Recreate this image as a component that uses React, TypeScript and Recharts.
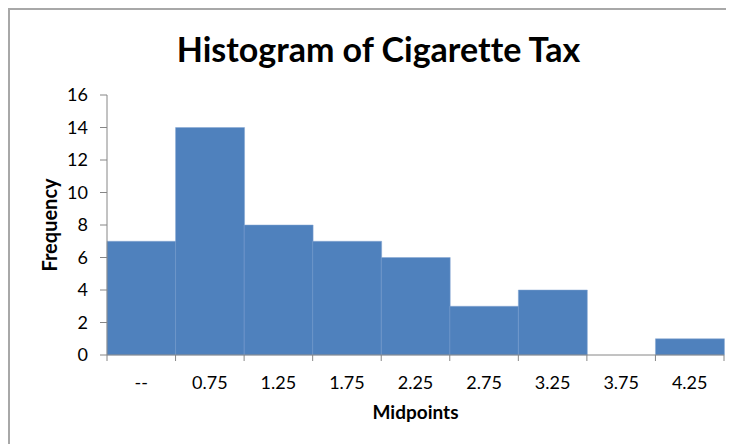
import { BarChart, Bar, XAxis, YAxis, Label } from "recharts";

// histogram bins (midpoints) and counts
const midpoints = ["--", "0.75", "1.25", "1.75", "2.25", "2.75", "3.25", "3.75", "4.25"];
const frequency = [7, 14, 8, 7, 6, 3, 4, 0, 1];
const yTicks = [0, 2, 4, 6, 8, 10, 12, 14, 16];

const data = midpoints.map((m, i) => ({ midpoint: m, frequency: frequency[i] }));

const CHART_W = 724;
const CHART_H = 434;
const MARGIN = { top: 85, right: 10, bottom: 0, left: 57 };
const Y_AXIS_W = 40;
const PLOT_W = CHART_W - MARGIN.left - MARGIN.right - Y_AXIS_W;
const AXIS_GREY = "#868686";
const FONT = "Lato, 'Noto Sans', sans-serif";

// tick marks sit on the bin edges, labels in the middle of each bin
const EdgeTick = (props: any) => {
  const { x, y, payload, index } = props;
  const half = PLOT_W / midpoints.length / 2;
  return (
    <g>
      <line x1={x - half} y1={y} x2={x - half} y2={y + 6} stroke={AXIS_GREY} />
      {index === midpoints.length - 1 && (
        <line x1={x + half} y1={y} x2={x + half} y2={y + 6} stroke={AXIS_GREY} />
      )}
      <text
        x={x}
        y={y + 27}
        textAnchor="middle"
        dominantBaseline="central"
        fontFamily={FONT}
        fontSize={18}
        fill="#000"
      >
        {payload.value}
      </text>
    </g>
  );
};

const App = () => {
  return (
    <div
      style={{
        position: "relative",
        width: CHART_W,
        height: CHART_H,
        borderTop: "2px solid #a8a8a8",
        borderLeft: "2px solid #a8a8a8",
        background: "#fff",
      }}
    >
      <div
        style={{
          position: "absolute",
          left: 0,
          top: 19,
          width: 737,
          textAlign: "center",
          fontFamily: FONT,
          fontWeight: 700,
          fontSize: 34,
          lineHeight: "40px",
          fontVariantLigatures: "none",
          color: "#000",
        }}
      >
        Histogram of Cigarette Tax
      </div>
      <BarChart width={CHART_W} height={CHART_H} data={data} margin={MARGIN} barCategoryGap={0}>
        <XAxis
          dataKey="midpoint"
          height={89}
          stroke={AXIS_GREY}
          tickLine={false}
          tickSize={0}
          tickMargin={0}
          interval={0}
          tick={<EdgeTick />}
        >
          <Label
            content={() => (
              <text
                x={MARGIN.left + Y_AXIS_W + PLOT_W / 2}
                y={401}
                textAnchor="middle"
                dominantBaseline="central"
                fontFamily={FONT}
                fontWeight={700}
                fontSize={19}
                fill="#000"
              >
                Midpoints
              </text>
            )}
          />
        </XAxis>
        <YAxis
          width={Y_AXIS_W}
          domain={[0, 16]}
          ticks={yTicks}
          interval={0}
          stroke={AXIS_GREY}
          tickSize={7}
          tickMargin={12}
          tick={{ fill: "#000", fontFamily: FONT, fontSize: 18 }}
        >
          <Label
            content={() => (
              <text
                x={39}
                y={215}
                transform="rotate(-90 39 215)"
                textAnchor="middle"
                dominantBaseline="central"
                fontFamily={FONT}
                fontWeight={700}
                fontSize={20}
                fill="#000"
              >
                Frequency
              </text>
            )}
          />
        </YAxis>
        <Bar
          dataKey="frequency"
          fill="#4F81BD"
          stroke="#86a7d2"
          strokeWidth={0.5}
          isAnimationActive={false}
        />
      </BarChart>
    </div>
  );
};

export default App;
